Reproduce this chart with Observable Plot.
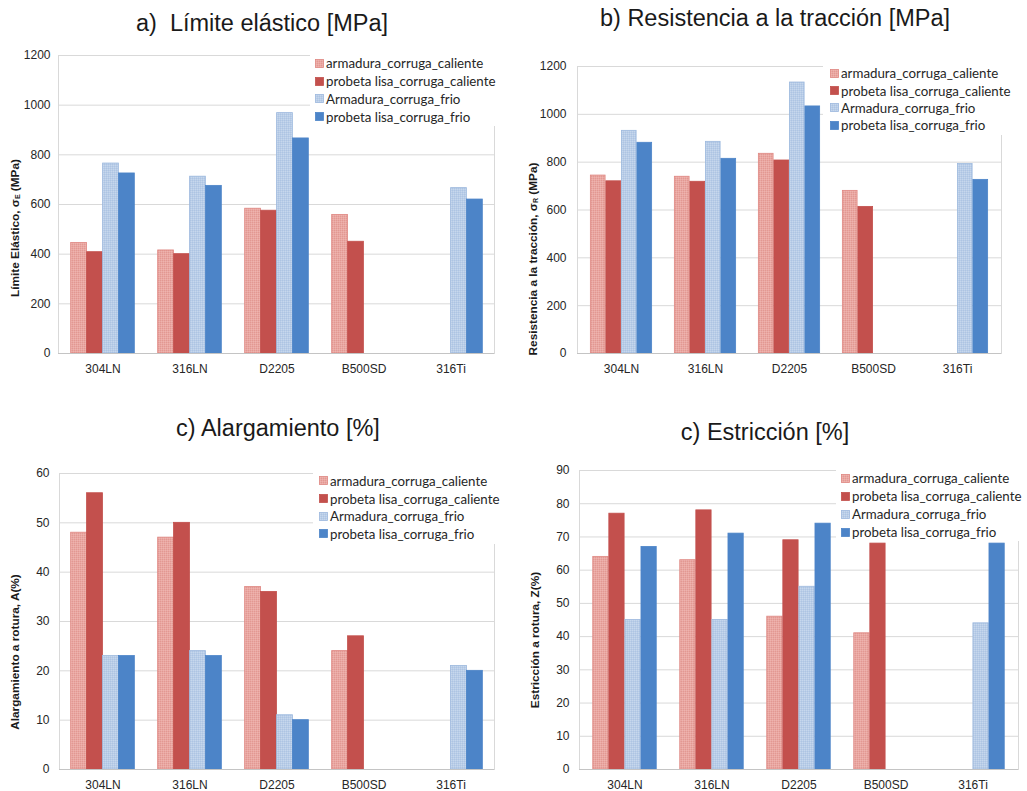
<!DOCTYPE html>
<html>
<head>
<meta charset="utf-8">
<script src="https://cdn.jsdelivr.net/npm/d3@7"></script>
<script src="https://cdn.jsdelivr.net/npm/@observablehq/plot@0.6"></script>
<style>
  body { margin: 0; background: #fff; }
  #page { position: relative; width: 1027px; height: 791px; overflow: hidden; font-family: "Liberation Sans", Arial, sans-serif; }
  .title { position: absolute; font-size: 23.5px; line-height: 23.5px; color: #1a1a1a; white-space: pre; transform: translateX(-50%); }
  .ylab { position: absolute; font-size: 11.8px; font-weight: bold; color: #1a1a1a; white-space: nowrap; transform: translate(-50%, -50%) rotate(-90deg); }
  .ylab sub { font-size: 7px; vertical-align: -1px; }
  .chart { position: absolute; }
  .legend { position: absolute; background: #fff; font-family: Lato, "Noto Sans", sans-serif; font-size: 13.3px; color: #262626; }
  .legend .row { display: flex; align-items: center; white-space: nowrap; }
  .legend svg { margin-right: 2px; flex: none; }
</style>
</head>
<body>
<!-- fine textures for the lighter "armadura" bars -->
<svg width="0" height="0" style="position:absolute">
  <defs>
    <pattern id="texRed" width="2" height="2" patternUnits="userSpaceOnUse">
      <rect width="2" height="2" fill="#e9a7a2"></rect>
      <rect x="0" y="0" width="1" height="1" fill="#e29892"></rect>
      <rect x="1" y="1" width="1" height="1" fill="#eeb3ae"></rect>
    </pattern>
    <pattern id="texBlue" width="2" height="2" patternUnits="userSpaceOnUse">
      <rect width="2" height="2" fill="#b9cde7"></rect>
      <rect x="0" y="0" width="1" height="1" fill="#adc4e3"></rect>
      <rect x="1" y="1" width="1" height="1" fill="#c6d7ed"></rect>
    </pattern>
  </defs>
</svg>
<div id="page"></div>
<script>
// Steel grades on the x axis
const categories = ["304LN", "316LN", "D2205", "B500SD", "316Ti"];

// Test series (legend order)
const seriesNames = [
  "armadura_corruga_caliente",
  "probeta lisa_corruga_caliente",
  "Armadura_corruga_frio",
  "probeta lisa_corruga_frio"
];

// One row per series, one value per steel grade (null = not tested)
const limiteElastico = [
  [445, 415, 583, 558, null],
  [408, 400, 575, 450, null],
  [765, 712, 968, null, 666],
  [725, 675, 866, null, 620]
];
const resistenciaTraccion = [
  [744, 739, 835, 680, null],
  [720, 718, 807, 613, null],
  [931, 885, 1133, null, 792],
  [881, 814, 1033, null, 726]
];
const alargamiento = [
  [48, 47, 37, 24, null],
  [56, 50, 36, 27, null],
  [23, 24, 11, null, 21],
  [23, 23, 10, null, 20]
];
const estriccion = [
  [64, 63, 46, 41, null],
  [77, 78, 69, 68, null],
  [45, 45, 55, null, 44],
  [67, 71, 74, null, 68]
];

// Y tick values
const ticksMPa = [0, 200, 400, 600, 800, 1000, 1200];
const ticksAlargamiento = [0, 10, 20, 30, 40, 50, 60];
const ticksEstriccion = [0, 10, 20, 30, 40, 50, 60, 70, 80, 90];

// Bar styling per series
const seriesFill = ["url(#texRed)", "#c3504d", "url(#texBlue)", "#4c84c8"];
const seriesStroke = ["#df8782", "#c3504d", "#9db9de", "#4c84c8"];

const page = document.getElementById("page");

function addDiv(cls, html, style) {
  const d = document.createElement("div");
  d.className = cls;
  d.innerHTML = html;
  Object.assign(d.style, style);
  page.appendChild(d);
  return d;
}

function drawPanel(p) {
  const rows = [];
  p.values.forEach((vals, s) => vals.forEach((v, c) => {
    if (v != null) rows.push({series: s, cat: categories[c], value: v});
  }));

  // four adjacent bars centred in each category band
  const bw = (p.width - p.mL - p.mR) / categories.length;
  const w = bw * 0.183;
  const g = (bw - 4 * w) / 2;

  const bars = seriesNames.map((name, s) =>
    Plot.barY(rows.filter(d => d.series === s), {
      x: "cat",
      y: "value",
      fill: seriesFill[s],
      stroke: seriesStroke[s],
      strokeWidth: 0.8,
      insetLeft: g + s * w,
      insetRight: bw - g - (s + 1) * w
    })
  );

  const chart = Plot.plot({
    width: p.width,
    height: p.height,
    marginLeft: p.mL,
    marginRight: p.mR,
    marginTop: p.mT,
    marginBottom: p.mB,
    style: {fontFamily: "'Liberation Sans', Arial, sans-serif", fontSize: "12px", color: "#262626", background: "transparent", overflow: "visible"},
    x: {type: "band", domain: categories, padding: 0, label: null},
    y: {domain: [0, p.ticks[p.ticks.length - 1]], label: null},
    marks: [
      Plot.gridY(p.ticks, {stroke: "#d9d9d9", strokeOpacity: 1}),
      Plot.frame({stroke: "#d9d9d9"}),
      ...bars,
      Plot.ruleY([0], {stroke: "#c4c4c4"}),
      Plot.axisY(p.ticks, {tickSize: 0, tickPadding: p.tickPad, fontSize: 12, label: null, tickFormat: d => String(d)}),
      Plot.axisX({tickSize: 0, tickPadding: 10.5, fontSize: 12, label: null})
    ]
  });
  chart.classList.add("chart");
  chart.style.left = p.left + "px";
  chart.style.top = p.top + "px";
  page.appendChild(chart);

  addDiv("title", p.title, {left: p.titleX + "px", top: p.titleY + "px"});
  addDiv("ylab", p.ylabel, {left: p.ylabX + "px", top: p.ylabY + "px"});

  const lg = addDiv("legend", "", {
    left: p.legend.x + "px", top: p.legend.y + "px",
    width: p.legend.w + "px", height: p.legend.h + "px",
    paddingLeft: p.legend.pad + "px", boxSizing: "border-box"
  });
  seriesNames.forEach((name, s) => {
    const r = document.createElement("div");
    r.className = "row";
    r.style.height = p.legend.step + "px";
    r.innerHTML = `<svg width="9" height="9"><rect x="0.5" y="0.5" width="8" height="8" fill="${seriesFill[s]}" stroke="${seriesStroke[s]}" stroke-width="0.8"></rect></svg><span>${name}</span>`;
    lg.appendChild(r);
  });
}

drawPanel({
  values: limiteElastico, ticks: ticksMPa,
  left: 0, top: 0, width: 505, height: 390, mL: 58, mR: 11, mT: 55, mB: 37, tickPad: 8,
  title: "a)  Límite elástico [MPa]", titleX: 262, titleY: 12,
  ylabel: "Límite Elástico, σ<sub>E</sub> (MPa)", ylabX: 15, ylabY: 228,
  legend: {x: 310, y: 54.5, w: 186, h: 71, pad: 5, step: 17.8}
});
drawPanel({
  values: resistenciaTraccion, ticks: ticksMPa,
  left: 513, top: 0, width: 514, height: 390, mL: 64, mR: 26, mT: 66, mB: 37, tickPad: 11,
  title: "b) Resistencia a la tracción [MPa]", titleX: 775, titleY: 7,
  ylabel: "Resistencia a la tracción, σ<sub>R</sub> (MPa)", ylabX: 533, ylabY: 259,
  legend: {x: 823, y: 64.5, w: 180, h: 70, pad: 7, step: 17.4}
});
drawPanel({
  values: alargamiento, ticks: ticksAlargamiento,
  left: 0, top: 395, width: 505, height: 396, mL: 59, mR: 11, mT: 78, mB: 22, tickPad: 10,
  title: "c) Alargamiento [%]", titleX: 278, titleY: 417,
  ylabel: "Alargamiento a rotura, A(%)", ylabX: 15, ylabY: 652,
  legend: {x: 313, y: 472, w: 183, h: 72, pad: 6, step: 17.7}
});
drawPanel({
  values: estriccion, ticks: ticksEstriccion,
  left: 513, top: 395, width: 514, height: 396, mL: 66, mR: 9, mT: 75, mB: 22, tickPad: 10,
  title: "c) Estricción [%]", titleX: 765, titleY: 421,
  ylabel: "Estricción a rotura, Z(%)", ylabX: 535, ylabY: 640,
  legend: {x: 836, y: 469, w: 183, h: 72, pad: 5, step: 18}
});
</script>
</body>
</html>
